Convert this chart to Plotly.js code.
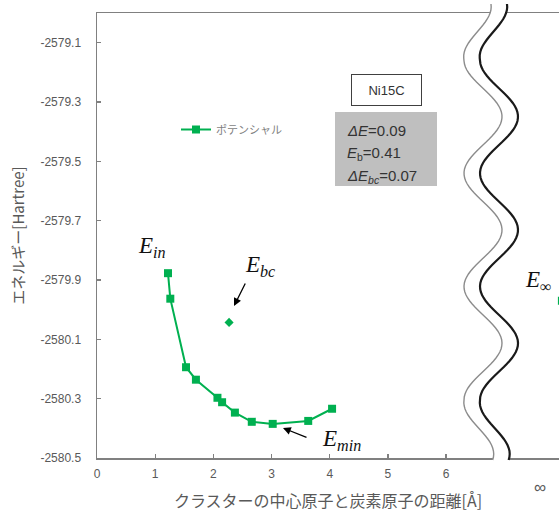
<!DOCTYPE html>
<html>
<head>
<meta charset="utf-8">
<script src="https://cdn.plot.ly/plotly-3.0.1.min.js"></script>
<style>html,body{margin:0;padding:0;background:#fff;}#chart{width:559px;height:512px;}</style>
</head>
<body>
<div id="chart"></div>
<script>
// ---- data ----
const distance = [1.22, 1.26, 1.53, 1.70, 2.07, 2.15, 2.37, 2.66, 3.02, 3.63, 4.04];
const energy = [-2579.877, -2579.963, -2580.194, -2580.236, -2580.297, -2580.312, -2580.347, -2580.378, -2580.385, -2580.375, -2580.334];
const bcDistance = [2.27];
const bcEnergy = [-2580.043];
const infDistance = [7.99];
const infEnergy = [-2579.97];
const xTickVals = [0, 1, 2, 3, 4, 5, 6];
const yTickVals = [-2579.1, -2579.3, -2579.5, -2579.7, -2579.9, -2580.1, -2580.3, -2580.5];
const yTickText = ['-2579.1', '-2579.3', '-2579.5', '-2579.7', '-2579.9', '-2580.1', '-2580.3', '-2580.5'];
const seriesName = 'ポテンシャル';
const xTitle = 'クラスターの中心原子と炭素原子の距離[Å]';
const yTitle = 'エネルギー[Hartree]';
const infoLines = ['<i>ΔE</i>=0.09', '<i>E</i><sub>b</sub>=0.41', '<i>ΔE</i><sub><i>bc</i></sub>=0.07'];

// ---- layout geometry ----
const W = 559, H = 512;
const ML = 97, MT = 13, MB = 54, MR = 0;
const PW = W - ML - MR, PH = H - MT - MB;
const xRange = [0, 7.94];
const yRange = [-2580.5, -2579.0];
const px2x = p => (p - ML) / PW * (xRange[1] - xRange[0]) + xRange[0];
const py2y = p => yRange[1] - (p - MT) / PH * (yRange[1] - yRange[0]);
const ppx = p => (p - ML) / PW;
const ppy = p => (H - MB - p) / PH;

const green = '#00b050';
const tickFont = {family: 'Liberation Sans, Arial, sans-serif', size: 12, color: '#595959'};
const mathFont = {family: 'Liberation Serif, DejaVu Serif, serif', size: 23, color: '#111'};

const traces = [
  {x: distance, y: energy, type: 'scatter', mode: 'lines+markers', name: seriesName,
   line: {color: green, width: 2}, marker: {symbol: 'square', size: 8, color: green}},
  {x: bcDistance, y: bcEnergy, type: 'scatter', mode: 'markers', showlegend: false,
   marker: {symbol: 'diamond', size: 7, color: green}},
  {x: infDistance, y: infEnergy, type: 'scatter', mode: 'markers', showlegend: false,
   marker: {symbol: 'square', size: 8, color: green}}
];

// wavy break (decoration)
function wave(offset) {
  const pts = [];
  for (let py = 4; py <= 460; py += 3) {
    let px = 483 + offset - 19 * Math.cos(2 * Math.PI * (py - 60) / 113.3);
    if (py < 60) px -= 11 * (60 - py) / 56;
    if (py > 400) px -= 9 * (py - 400) / 60;
    pts.push([ppx(px), ppy(py)]);
  }
  return pts;
}
const g = wave(0), b = wave(16);
const toPath = pts => pts.map((p, i) => (i ? 'L' : 'M') + p[0].toFixed(4) + ',' + p[1].toFixed(4)).join(' ');
const bandPath = toPath(g) + ' ' + b.slice().reverse().map(p => 'L' + p[0].toFixed(4) + ',' + p[1].toFixed(4)).join(' ') + ' Z';

const shapes = [
  {type: 'rect', xref: 'paper', yref: 'paper', x0: ppx(335), x1: ppx(437), y0: ppy(186), y1: ppy(112),
   fillcolor: '#bfbfbf', line: {width: 0}, layer: 'above'},
  {type: 'path', xref: 'paper', yref: 'paper', path: bandPath, fillcolor: '#ffffff', line: {width: 0}, layer: 'above'},
  {type: 'path', xref: 'paper', yref: 'paper', path: toPath(g), line: {color: '#8c8c8c', width: 1.4}, layer: 'above'},
  {type: 'path', xref: 'paper', yref: 'paper', path: toPath(b), line: {color: '#1a1a1a', width: 2.2}, layer: 'above'}
];

const C = {xanchor: 'center', yanchor: 'middle', showarrow: false};
const infoFont = {family: 'Liberation Sans, Arial, sans-serif', size: 15, color: '#333'};
const annotations = [
  Object.assign({xref: 'paper', yref: 'paper', x: ppx(386.5), y: ppy(90), text: 'Ni15C',
   font: {family: 'Liberation Sans, Arial, sans-serif', size: 13, color: '#333'},
   bgcolor: '#ffffff', bordercolor: '#404040', borderwidth: 1, width: 67, height: 28}, C),
  ...infoLines.map((t, i) => ({xref: 'paper', yref: 'paper', x: ppx(345), y: ppy(130 + 23 * i), text: t,
    xanchor: 'left', yanchor: 'middle', showarrow: false, font: infoFont})),
  Object.assign({xref: 'paper', yref: 'paper', x: ppx(152), y: ppy(247), text: '<i>E</i><sub><i>in</i></sub>', font: mathFont}, C),
  Object.assign({xref: 'paper', yref: 'paper', x: ppx(260), y: ppy(266), text: '<i>E</i><sub><i>bc</i></sub>', font: mathFont}, C),
  Object.assign({xref: 'paper', yref: 'paper', x: ppx(341), y: ppy(440), text: '<i>E</i><sub><i>min</i></sub>', font: mathFont}, C),
  Object.assign({xref: 'paper', yref: 'paper', x: ppx(538), y: ppy(281), text: '<i>E</i><sub>∞</sub>', font: mathFont}, C),
  {xref: 'x', yref: 'y', x: px2x(234), y: py2y(306), ax: 12, ay: -24, text: '', showarrow: true,
   arrowhead: 2, arrowsize: 1.2, arrowwidth: 1.3, arrowcolor: '#000'},
  {xref: 'x', yref: 'y', x: px2x(283), y: py2y(428), ax: 25, ay: 10, text: '', showarrow: true,
   arrowhead: 2, arrowsize: 1.2, arrowwidth: 1.3, arrowcolor: '#000'},
  Object.assign({xref: 'paper', yref: 'paper', x: ppx(540), y: ppy(487), text: '∞',
   font: {family: 'Liberation Sans, Arial, sans-serif', size: 17, color: '#595959'}}, C)
];

const layout = {
  width: W, height: H,
  margin: {l: ML, r: MR, t: MT, b: MB, pad: 0},
  paper_bgcolor: '#fff', plot_bgcolor: '#fff',
  showlegend: true,
  legend: {x: ppx(176), y: ppy(115), xanchor: 'left', yanchor: 'top', bgcolor: 'rgba(0,0,0,0)',
    font: {family: 'Noto Sans CJK JP, sans-serif', size: 11, color: '#7f7f7f'}},
  xaxis: {range: xRange, tickvals: xTickVals, ticks: 'inside', ticklen: 4, tickcolor: '#808080', tickwidth: 1.3,
    showline: true, linecolor: '#808080', linewidth: 1.5, mirror: true, showgrid: false, zeroline: false,
    tickfont: tickFont, ticklabelstandoff: 4,
    title: {text: xTitle, font: {family: 'Noto Sans CJK JP, sans-serif', size: 16, color: '#595959'}, standoff: 16}},
  yaxis: {range: yRange, tickvals: yTickVals, ticktext: yTickText, ticks: 'inside', ticklen: 4, tickcolor: '#808080', tickwidth: 1.3,
    showline: true, linecolor: '#808080', linewidth: 1.5, mirror: false, showgrid: false, zeroline: false,
    tickfont: tickFont, ticklabelstandoff: 12,
    title: {text: yTitle, font: {family: 'Noto Sans CJK JP, sans-serif', size: 15, color: '#595959'}, standoff: 12}},
  shapes: shapes,
  annotations: annotations
};

Plotly.newPlot('chart', traces, layout, {displayModeBar: false, staticPlot: true});
</script>
</body>
</html>
